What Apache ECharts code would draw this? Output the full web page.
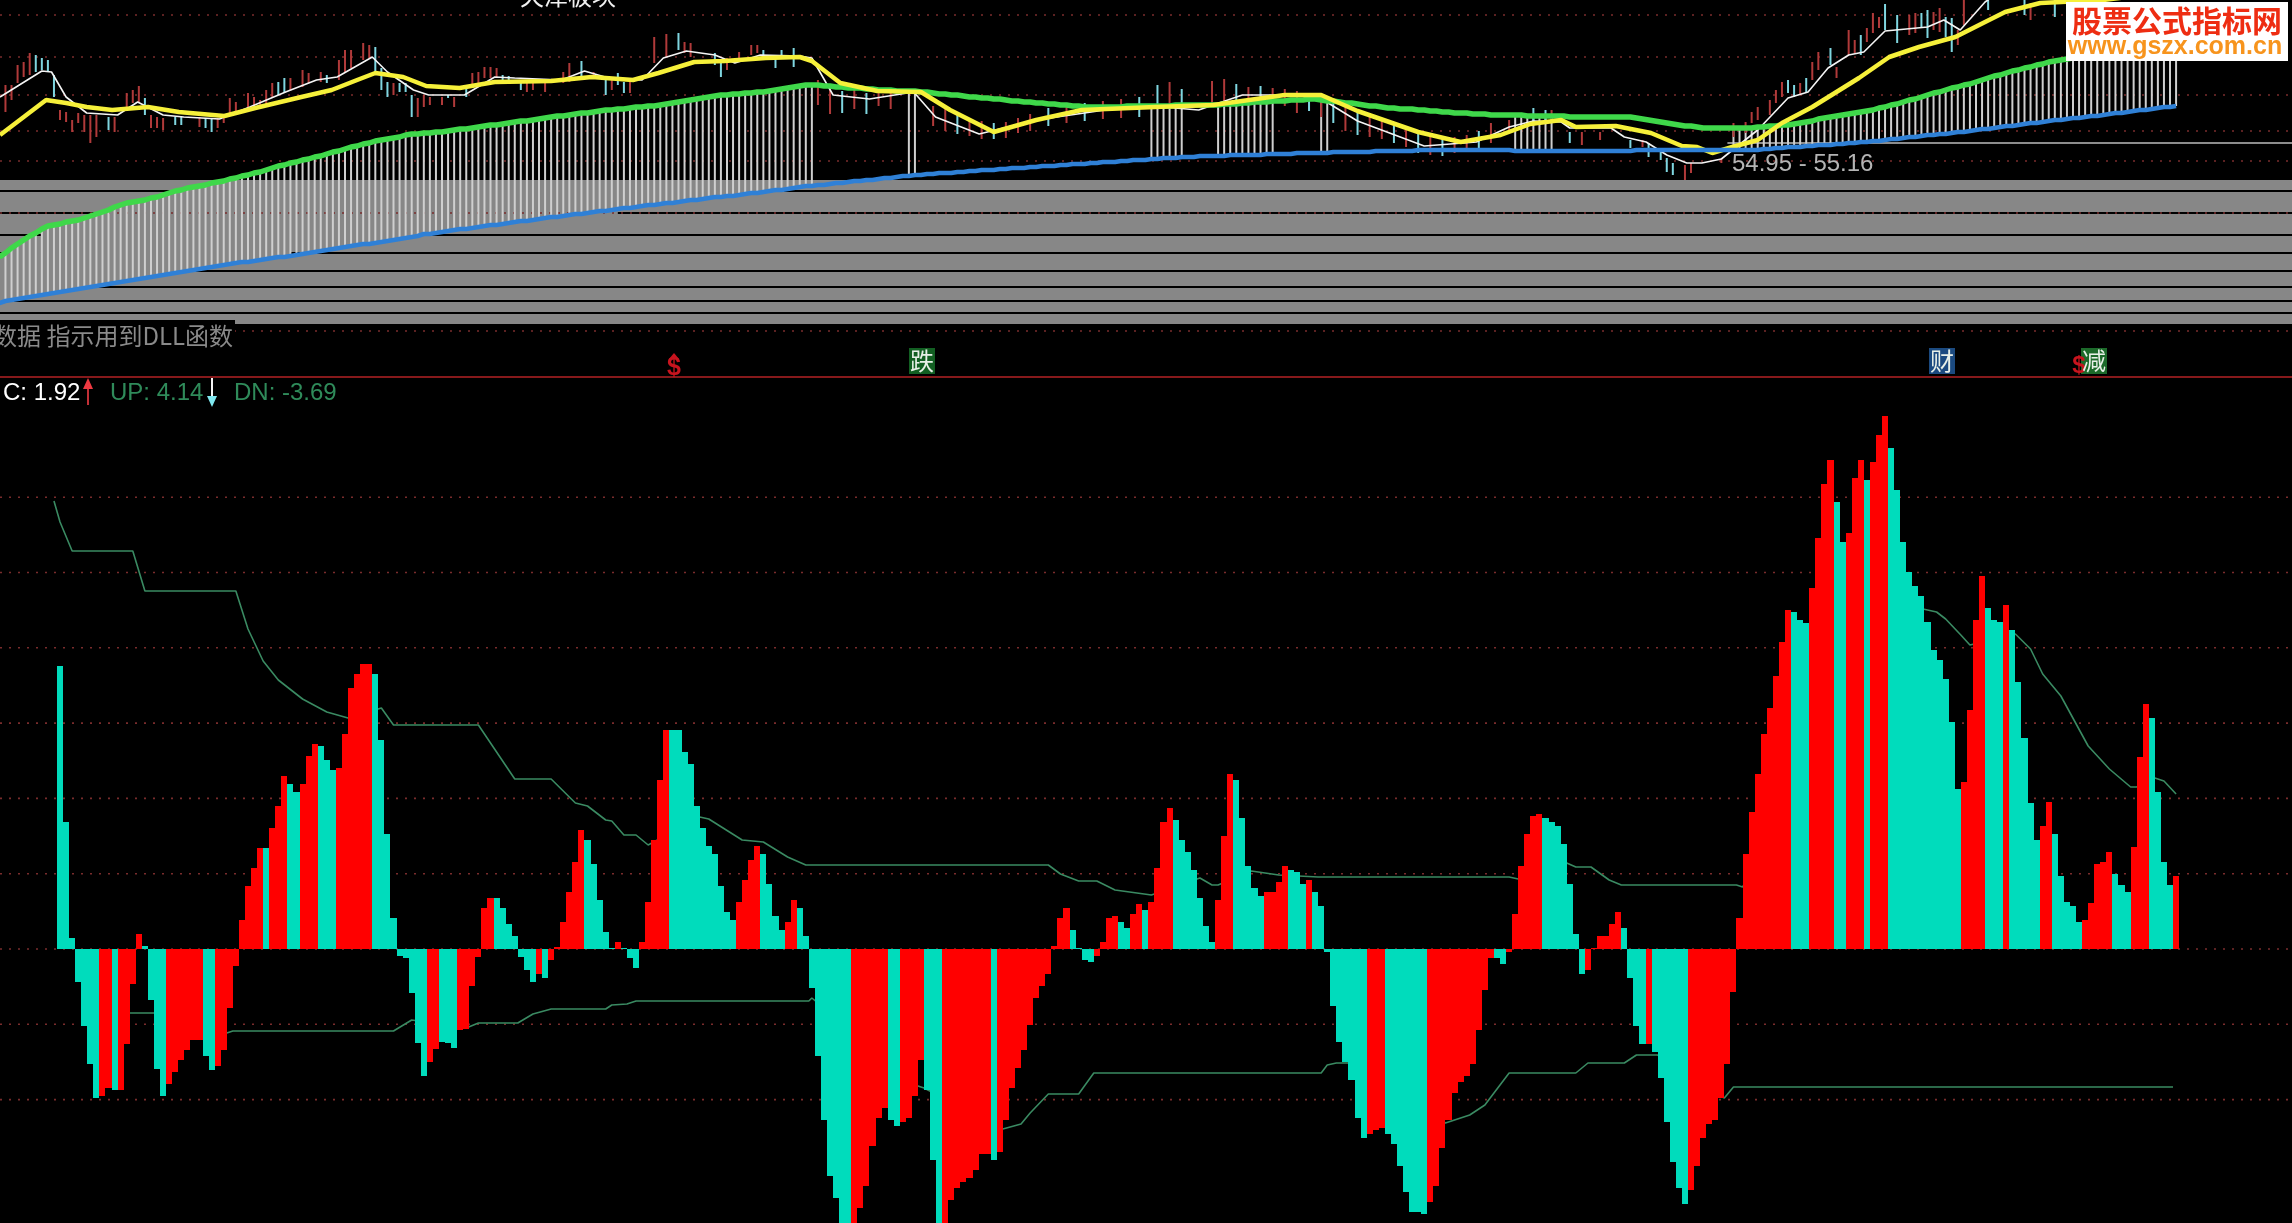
<!DOCTYPE html>
<html><head><meta charset="utf-8">
<style>html,body{margin:0;padding:0;background:#000;overflow:hidden}#c{width:2292px;height:1223px}</style>
<script src="https://cdn.jsdelivr.net/npm/echarts@6/dist/echarts.min.js"></script>
</head><body><div id="c"></div>
<script>
// ---------- lower pane: oscillator histogram (readings, 37.65 readings = 1 indicator unit)
const READINGS_PER_UNIT = 37.65;
const histReadings = [
283,127,11,-33,-77,-115,-149,-147,-139,-141,
-141,-95,-35,15,3,-51,-120,-147,-135,-123,
-111,-101,-91,-91,-107,-121,-117,-101,-59,-17,
29,63,81,101,101,121,143,173,165,157,
165,193,205,203,189,179,181,215,261,275,
285,285,275,209,115,31,-7,-9,-44,-94,
-127,-113,-100,-93,-94,-99,-81,-80,-37,-8,
41,51,51,41,25,13,-8,-21,-33,-25,
-29,-11,2,27,57,87,119,109,85,49,
17,1,7,1,-9,-19,7,47,109,169,
219,219,219,197,185,143,121,103,95,63,
37,29,47,69,89,103,95,65,33,19,
27,49,41,13,-39,-107,-171,-227,-249,-290,
-300,-290,-259,-237,-197,-169,-159,-171,-177,-173,
-169,-147,-111,-141,-211,-300,-300,-251,-239,-233,
-229,-221,-205,-205,-211,-203,-171,-139,-119,-101,
-76,-49,-37,-25,3,31,41,19,1,-11,
-13,-7,7,31,33,27,21,35,45,39,
47,81,127,141,129,109,97,79,51,23,
7,49,113,175,169,131,83,61,53,57,
57,67,83,79,77,65,69,57,43,-3,
-57,-93,-113,-131,-169,-189,-185,-181,-179,-185,
-195,-217,-243,-263,-263,-265,-253,-237,-199,-171,
-144,-133,-127,-115,-81,-41,-9,-9,-15,-3,
35,83,115,133,135,131,127,123,105,65,
15,-25,-21,1,13,13,25,37,21,-29,
-77,-95,-95,-103,-129,-173,-213,-239,-255,-241,
-217,-189,-175,-171,-149,-115,-43,31,95,137,
175,215,241,273,307,339,337,329,326,361,
411,465,489,447,407,416,471,489,469,487,
514,533,501,459,407,377,363,353,327,299,
289,270,227,160,167,239,329,373,341,329,
327,344,319,267,211,146,109,123,147,115,
73,47,43,27,29,46,85,87,97,75,
64,57,102,192,245,231,157,87,64,73];
// alternating colour runs, teal first
const histColourRuns = [7,2,1,4,4,6,2,8,1,3,2,3,3,6,9,2,3,6,7,1,1,6,5,1,3,5,11,4,4,2,9,6,2,4,3,8,1,12,4,4,2,2,1,4,7,3,5,4,3,1,9,3,7,11,2,6,7,6,4,1,6,17,3,4,2,3,1,3,12,4,3,1,5,2,5,5,3,3,4,1];
const upBand = [[-1,448],[0,427],[2,398],[12,398],[14,358],[29,358],[31,320],[33.5,288],[36,269],[40,250],[44,237],[47.5,231],[53,241],[55,224],[69,224],[75,170],[81,170],[85,146],[87,143],[90,129],[91,128],[93,114],[95,114],[97,104],[105.5,132],[107,130],[112.5,109],[116,107],[120,92],[123,84],[163,84],[165,75],[168,68],[171,68],[174,59],[180,54],[188,71],[190,64],[191,64],[196.5,78],[201,74],[207.5,72],[239,72],[240.5,70],[248.5,86],[250,82],[252.5,82],[255.5,69],[257.5,64],[276.5,64],[277.5,62],[306.5,341],[309.5,337],[311,330],[313.5,314],[315,304],[322.5,315],[325,300],[327,275],[330,253],[334.5,203],[338,180],[341.5,162],[342.5,162],[345.5,171],[347,168],[349,155]];
const dnBand = [[9.5,-64],[15.5,-64],[27.5,-84],[28.5,-82],[55,-82],[58,-71],[67,-79],[69,-74],[75.5,-74],[78,-65],[81,-60],[90,-60],[91,-56],[93.5,-55],[95,-52],[123.5,-52],[124,-49],[141.5,-137],[142.5,-139],[155.5,-180],[158.5,-175],[160,-164],[163,-145],[168,-145],[170.5,-124],[208,-124],[209,-116],[210.5,-114],[212.5,-114],[228.5,-174],[232.5,-166],[235,-156],[239,-124],[250,-124],[252,-114],[258,-114],[260,-106],[263.5,-106],[273.5,-146],[274.5,-149],[276,-138],[348.5,-138]];
const lowerGridLevels = [-4,-2,0,2,4,6,8,10,12];
const legendC = 'C: 1.92', legendUp = 'UP: 4.14', legendDn = 'DN: -3.69';

// ---------- upper pane: price lines and sticks (bar numbers start at -10, off the left of the histogram)
const FIRST_PRICE_BAR = -10;
const longLine = [
74,78,83,87,91,95,98,102,105,106,
107,109,110,111,113,115,117,119,121,124,126,128,129,130,131,133,134,136,138,140,
141,143,144,145,146,148,149,150,152,153,155,156,158,159,161,163,165,166,168,169,
171,172,174,175,177,179,180,182,184,185,187,188,190,191,192,193,194,196,197,197,
198,198,199,199,200,201,202,202,203,204,205,206,206,207,208,209,210,210,211,212,
213,214,215,215,216,217,218,218,219,220,221,221,222,222,223,224,224,225,225,226,
227,228,229,230,231,232,233,234,235,236,236,237,237,238,238,239,239,240,241,242,
243,244,245,246,246,246,245,245,244,244,243,243,243,242,242,241,241,241,240,240,
240,240,239,239,238,237,237,236,236,235,234,234,233,233,232,232,231,230,230,229,
229,228,228,227,227,226,226,225,225,224,224,224,224,224,224,224,225,225,225,225,
225,225,225,225,226,226,226,226,226,226,226,226,227,227,227,228,228,229,229,229,
230,230,230,231,231,231,232,232,231,230,230,229,228,228,227,226,225,225,224,223,
223,222,222,222,221,221,220,220,219,219,218,218,218,217,217,217,216,216,216,216,
216,216,215,215,215,215,215,215,215,214,214,214,214,214,214,214,214,214,214,214,
213,212,211,210,209,208,207,206,205,205,204,203,203,203,203,203,203,203,203,203,
204,204,205,205,206,206,207,208,209,210,212,213,214,215,216,217,218,219,220,221,
223,224,226,227,229,231,232,234,236,238,239,241,243,244,246,247,249,251,253,255,
256,258,260,261,263,264,266,267,269,270,271,272,273,274,274,275,276,277,278,279,
280,280,281,282,283,284,284,285,286,287];
const floorLine = [
28,30,31,32,33,34,35,36,37,38,
39,40,41,42,43,44,45,46,47,48,49,50,51,52,53,54,55,56,57,58,
59,60,61,62,63,64,65,66,67,68,69,69,70,71,72,73,74,74,75,76,
77,78,79,80,81,82,83,84,85,86,87,87,88,89,90,91,92,93,94,95,
97,97,98,99,100,101,102,102,103,104,105,106,106,107,108,109,110,110,111,112,
113,114,114,115,116,117,117,118,119,120,120,121,122,123,123,124,125,126,126,127,
128,128,129,130,131,131,132,133,134,134,135,135,136,137,138,138,139,140,141,141,
142,143,144,145,145,146,146,147,148,148,149,150,150,151,151,152,153,153,154,155,
155,156,156,157,157,158,158,158,159,159,160,160,161,161,161,162,162,163,163,163,
164,164,165,165,165,166,166,167,167,167,168,168,169,169,169,170,170,171,171,171,
172,172,173,173,173,174,174,174,175,175,175,175,175,176,176,176,176,176,176,177,
177,177,177,177,178,178,178,178,178,178,179,179,179,179,179,179,179,180,180,180,
180,180,180,180,181,181,181,181,181,181,181,181,181,181,181,181,181,181,181,181,
180,180,180,180,180,180,180,180,180,180,180,180,180,180,180,180,180,180,180,180,
181,181,181,181,181,181,181,181,181,181,181,181,181,181,181,181,181,181,181,181,
181,182,182,183,183,184,184,184,185,185,186,186,186,187,187,188,188,189,189,190,
190,191,192,192,193,194,194,195,196,196,197,197,198,199,199,200,201,202,202,203,
204,205,205,206,207,208,208,209,210,211,211,212,213,213,214,215,215,216,217,218,
218,219,220,221,221,222,223,224,224,225];
const cloudBarRuns = [[-9,124],[140,141],[180,185],[191,200],[208,209],[240,246],[276,349]];
const yellowLine = [[-9.9,196],[-2.3,231],[1,228],[4.4,224],[8.6,221],[14.5,224],[19.6,219],[27.1,215],[32.2,223],[39.8,234],[44.8,241],[49,251],[52,258],[56.6,254],[60.4,245],[65.9,243],[71.7,249],[81,250],[87.7,254],[94.5,251],[98.7,258],[104.6,269],[109.6,270],[116.4,273],[122,274],[124,270],[128.7,248],[134.8,240],[142,239],[146.8,221],[154,199],[161,211],[168.5,221],[180.6,224],[190.2,226],[202,236],[208,236],[214,220],[224,199],[231,189],[237.6,196],[242.5,207],[247.6,211],[250,204],[256.6,205],[262.4,198],[267.5,185],[270,184],[272.5,178],[275.8,184],[280,191],[284,208],[289,224],[296.7,253],[301.7,274],[306.6,284],[312.6,294],[317.5,309],[320.8,319],[326.6,328],[337,331],[349,340]];
const whiteLine = [[-9.9,234],[-3,260],[-1.4,259],[1,234],[4.4,218],[9.5,216],[12.8,229],[17,216],[20.4,214],[26.3,212],[31.3,224],[37.2,239],[42.3,251],[45.7,254],[51.5,274],[54,259],[58.3,241],[60.8,236],[66.7,236],[71.7,254],[75,253],[82.7,251],[86.5,260],[91,252],[96,251],[99.5,273],[103.3,280],[108,276],[111.3,268],[115.5,276],[122,275],[124,273],[127.5,236],[133.5,232],[140.8,239],[144.4,214],[151.6,197],[161,211],[178,226],[187.8,221],[195,236],[207,236],[214,210],[225,185],[233.6,189],[239,204],[243,210],[247.6,209],[249,203],[255.8,203],[258,194],[261.6,189],[265,176],[268.3,168],[270.8,168],[274,172],[280,201],[285,233],[288.3,239],[291.6,263],[295,276],[297.5,279],[301,300],[308,304],[310.7,311],[313.4,301],[317.5,329],[320,340]];
// sticks: [bar, low, high]
const redSticks = [[-9,219,246],[-8,231,246],[-7,248,266],[-6,254,269],[-5,256,278],[0,211,221],[1,209,219],[2,199,211],[3,208,218],[4,199,216],[5,188,216],[6,194,216],[9,199,214],[11,224,238],[12,228,241],[13,228,245],[15,203,216],[16,203,214],[17,201,213],[23,204,214],[26,203,213],[27,208,216],[28,218,233],[29,219,229],[31,221,238],[32,221,234],[33,224,231],[34,226,241],[35,234,248],[38,241,253],[40,244,261],[41,248,258],[43,249,259],[46,251,271],[47,258,281],[48,263,281],[50,271,288],[51,273,286],[55,236,248],[59,214,233],[60,224,236],[61,226,234],[63,226,234],[65,224,234],[68,244,258],[69,248,259],[70,253,264],[71,253,264],[72,253,263],[77,239,249],[78,241,249],[80,239,249],[83,248,259],[84,249,268],[88,253,259],[91,241,251],[94,238,249],[98,268,294],[100,274,297],[103,278,289],[104,274,288],[110,261,273],[112,271,279],[114,276,286],[115,278,286],
[125,226,251],[127,217,243],[131,222,244],[135,225,241],[137,222,240],[144,205,225],[146,200,222],[150,195,213],[152,192,210],[156,193,209],[158,198,213],[160,200,217],[166,208,225],[172,212,230],[175,213,232],[183,224,249],[190,226,250],[192,228,252],[196,226,244],[200,228,243],[202,225,242],[204,218,240],[208,214,236],[212,200,226],[216,194,216],[218,192,212],[222,184,204],[226,176,196],[230,178,194],[232,180,196],[236,188,208],[239,199,211],[246,209,221],
[251,186,199],[254,191,199],[261,184,191],[268,151,166],[269,158,168],[274,168,173],[276,194,208],[278,198,209],[279,208,219],[280,211,224],[282,216,231],[283,228,241],[284,234,249],[287,236,248],[289,251,269],[290,261,279],[293,253,264],[295,276,301],[296,278,291],[298,289,303],[299,298,318],[300,303,314],[305,296,316],[306,298,318],[309,301,319],[310,299,323],[313,286,301],[314,306,331],[325,311,328]];
const cyanSticks = [[-4,259,276],[-3,261,273],[-2,259,271],[-1,234,256],[8,201,214],[14,216,233],[19,206,214],[20,206,214],[24,203,213],[25,199,213],[36,236,249],[37,238,253],[44,248,256],[52,259,284],[53,241,263],[54,234,249],[56,239,248],[57,239,248],[58,214,236],[64,233,236],[67,234,243],[73,251,256],[74,248,255],[76,241,249],[86,254,270],[90,236,253],[92,246,258],[93,238,249],[102,281,298],[108,266,278],[109,254,269],[116,271,281],[118,263,273],[119,273,281],[121,264,283],
[129,218,240],[133,217,238],[148,197,217],[154,192,208],[163,205,223],[169,210,228],[178,214,234],[181,222,246],[185,222,242],[194,230,247],[198,228,245],[206,220,238],[210,208,232],[214,196,220],[220,188,207],[224,178,200],[228,175,192],[234,182,200],[243,208,223],[245,208,221],
[249,188,199],[259,183,191],[262,174,188],[264,171,181],[265,159,173],[266,156,168],[285,238,251],[286,234,246],[288,239,253],[292,266,283],[297,276,296],[301,301,327],[303,288,316],[307,303,318],[308,293,321],[311,294,314],[312,279,313],[318,321,331],[324,316,331],[329,314,331]];
const priceMarker = 188;
const upperDottedLevels = [316,274,236,200,170,118,0];
const greyBand = [7,151];
// black band lines: [level, hidden from bar, hidden to bar]
const bandLines = [[140,19,117],[118,7,92],[96,-3,60],[78,-9,38],[60,-12,21],[44,-12,5],[30,-12,-9],[18,-12,-12]];
const rangeText = '54.95 - 55.16';
const sectorText = '天津板块';
const noteText = '数据 指示用到DLL函数';

// ---------- view
const xMin = -9.9, xMax = 368.12;
const c = echarts.init(document.getElementById('c'), null, {renderer:'canvas'});
const TEAL = '#00dcbc', RED = '#ff0000';

let histColours = [], teal = true;
histColourRuns.forEach(n => { for (let k = 0; k < n; k++) histColours.push(teal ? TEAL : RED); teal = !teal; });
const histData = histReadings.map((r, i) => [i, r / READINGS_PER_UNIT]);
const toUnits = pts => pts.map(p => [p[0], p[1] / READINGS_PER_UNIT]);

const indexed = arr => arr.map((v, i) => [FIRST_PRICE_BAR + i, v]);
const cloudData = [];
cloudBarRuns.forEach(([a, b]) => { for (let i = a; i <= b; i++) cloudData.push([i, floorLine[i - FIRST_PRICE_BAR], longLine[i - FIRST_PRICE_BAR]]); });

const stick = (color, width) => (params, api) => {
  const a = api.coord([api.value(0), api.value(1)]), b = api.coord([api.value(0), api.value(2)]);
  return { type: 'line', shape: { x1: a[0], y1: a[1], x2: b[0], y2: b[1] }, style: { stroke: color, lineWidth: width }, silent: true };
};
const stickSeries = (data, color, width, z) => ({ type: 'custom', xAxisIndex: 0, yAxisIndex: 0, data, z, clip: true, renderItem: stick(color, width), encode: { x: 0, y: [1, 2] } });
const line = (pane, data, color, width, z, extra) => Object.assign({ type: 'line', xAxisIndex: pane, yAxisIndex: pane, data, symbol: 'none', z, silent: true, lineStyle: { color, width } }, extra || {});
const dotted = (pane, level, z) => line(pane, [[xMin, level], [xMax, level]], '#7a2c2c', 1.6, z, { lineStyle: { color: '#7a2c2c', width: 1.6, type: [2, 7] } });

// one histogram column, with edges snapped to whole pixels so that neighbours join without seams
const histColumn = (params, api) => {
  const i = api.value(0), v = api.value(1);
  const left = Math.round(api.coord([i - 0.5, 0])[0]), right = Math.round(api.coord([i + 0.5, 0])[0]);
  const base = Math.round(api.coord([i, 0])[1]), tip = Math.round(api.coord([i, v])[1]);
  return { type: 'rect', shape: { x: left, y: Math.min(base, tip), width: right - left, height: Math.abs(tip - base) }, style: { fill: histColours[params.dataIndex] }, silent: true };
};

const series = [];
// grey band
series.push({ type: 'line', xAxisIndex: 0, yAxisIndex: 0, data: [], z: 1, silent: true,
  markArea: { silent: true, itemStyle: { color: '#878787' }, data: [[{ xAxis: xMin, yAxis: greyBand[0] }, { xAxis: xMax, yAxis: greyBand[1] }]] } });
bandLines.forEach(([lv, a, b]) => {
  const d = a > xMin ? [[xMin, lv], [a, lv], ['-', '-'], [b, lv], [xMax, lv]] : [[b, lv], [xMax, lv]];
  series.push(line(0, d, '#000', 2, 2, { connectNulls: false }));
});
upperDottedLevels.forEach(l => series.push(dotted(0, l, 3)));
series.push(line(0, [[275, priceMarker], [xMax, priceMarker]], '#8c8c8c', 2, 3));
series.push(stickSeries(cloudData, '#cfcfcf', 2, 4));
series.push(stickSeries(redSticks, '#b03a3a', 2, 5));
series.push(stickSeries(cyanSticks, '#7fd6e0', 2, 5));
series.push(line(0, whiteLine, '#f4f4f4', 1.6, 6));
series.push(line(0, indexed(longLine), '#3fd84a', 5.5, 7));
series.push(line(0, yellowLine, '#f6f03a', 4.5, 8));
series.push(line(0, indexed(floorLine), '#2f80d6', 4.5, 9));
// lower pane
lowerGridLevels.forEach(l => series.push(dotted(1, l, 2)));
series.push(line(1, toUnits(upBand), '#3a8a62', 1.6, 3));
series.push(line(1, toUnits(dnBand), '#3a8a62', 1.6, 3));
series.push({ type: 'custom', xAxisIndex: 1, yAxisIndex: 1, data: histData, z: 5, clip: true, renderItem: histColumn, encode: { x: 0, y: 1 } });

const T = (text, x, y, font, fill, extra) => Object.assign({ type: 'text', x, y, z: 50, style: Object.assign({ text, font, fill, textVerticalAlign: 'middle' }, extra || {}) });
const sans = '"Liberation Sans"', cjk = '"Noto Sans CJK SC"';
const tag = (text, x, bg) => [
  { type: 'rect', z: 49, shape: { x, y: 348, width: 26, height: 26 }, style: { fill: bg } },
  T(text, x + 13, 361, '24px ' + cjk, '#e8f0e8', { textAlign: 'center' })
];
const graphic = [
  { type: 'rect', z: 45, shape: { x: 0, y: 320, width: 235, height: 30 }, style: { fill: '#000' } },
  T(noteText, 233, 336, '24px ' + cjk, '#8a8a8a', { textAlign: 'right' }),
  T(sectorText, 520, -4, '24px ' + cjk, '#f2f2f2'),
  T(rangeText, 1732, 164, '24px ' + sans, '#b4b4b4'),
  { type: 'rect', z: 60, shape: { x: 2066, y: 2, width: 222, height: 59 }, style: { fill: '#fff' } },
  T('股票公式指标网', 2177, 21, 'bold 30px ' + cjk, '#ee2d12', { textAlign: 'center' }),
  T('www.gszx.com.cn', 2175, 47, 'bold 25px ' + sans, '#f7941d', { textAlign: 'center' }),
  { type: 'line', z: 40, shape: { x1: 0, y1: 377, x2: 2292, y2: 377 }, style: { stroke: '#86191b', lineWidth: 2 } },
  T(legendC, 3, 393, '24px ' + sans, '#ffffff'),
  T(legendUp, 110, 393, '24px ' + sans, '#2f8b5a'),
  T(legendDn, 234, 393, '24px ' + sans, '#2f8b5a'),
  { type: 'line', z: 40, shape: { x1: 88, y1: 380, x2: 88, y2: 405 }, style: { stroke: '#c22f36', lineWidth: 2 } },
  { type: 'polygon', z: 40, shape: { points: [[88, 378], [83, 389], [93, 389]] }, style: { fill: '#ee3a42' } },
  { type: 'line', z: 40, shape: { x1: 212, y1: 378, x2: 212, y2: 402 }, style: { stroke: '#f4f4f4', lineWidth: 2 } },
  { type: 'polygon', z: 40, shape: { points: [[207, 396], [217, 396], [212, 407]] }, style: { fill: '#7fe8f0' } },
  T('$', 674, 368, 'bold 25px ' + sans, '#c8141e', { textAlign: 'center' }),
  { type: 'polygon', z: 40, shape: { points: [[674, 353], [669, 359], [679, 359]] }, style: { fill: '#c8141e' } },
  T('$', 2079, 366, 'bold 24px ' + sans, '#c8141e', { textAlign: 'center' })
].concat(tag('跌', 909, '#125f22'), tag('财', 1929, '#1b4a80'), tag('减', 2081, '#1c6a2a'));
// logo text must sit above its white plate
graphic.forEach(g => { if (g.type === 'text' && (g.style.text === '股票公式指标网' || g.style.text === 'www.gszx.com.cn')) g.z = 61; });

const hiddenAxis = { show: false, axisLine: { show: false }, axisTick: { show: false }, axisLabel: { show: false }, splitLine: { show: false } };
c.setOption({
  animation: false,
  backgroundColor: '#000',
  grid: [
    { left: 0, right: 0, top: 0, height: 377 },
    { left: 0, right: 0, top: 377, height: 846 }
  ],
  xAxis: [
    Object.assign({ type: 'value', gridIndex: 0, min: xMin, max: xMax }, hiddenAxis),
    Object.assign({ type: 'value', gridIndex: 1, min: xMin, max: xMax }, hiddenAxis)
  ],
  yAxis: [
    Object.assign({ type: 'value', gridIndex: 0, min: -46, max: 331 }, hiddenAxis),
    Object.assign({ type: 'value', gridIndex: 1, min: -274 / READINGS_PER_UNIT, max: 572 / READINGS_PER_UNIT }, hiddenAxis)
  ],
  graphic: { elements: graphic },
  series
});
</script></body></html>
